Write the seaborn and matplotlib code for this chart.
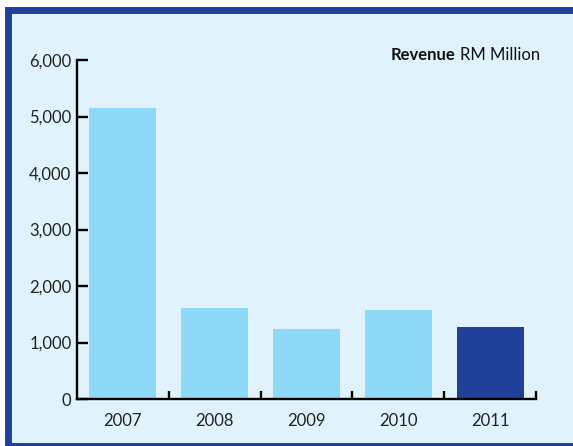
import matplotlib
matplotlib.use("Agg")
import matplotlib.pyplot as plt
import matplotlib.patches as patches
from matplotlib.ticker import FuncFormatter, FixedLocator
import seaborn as sns
import pandas as pd

years = ["2007", "2008", "2009", "2010", "2011"]
revenue = [5150, 1610, 1240, 1575, 1275]
bar_colors = ["#8ed9f8", "#8ed9f8", "#8ed9f8", "#8ed9f8", "#21409a"]

sns.set_style("white")
plt.rcParams["font.family"] = ["Lato", "DejaVu Sans"]

W, H = 573, 446
fig = plt.figure(figsize=(W / 100, H / 100), dpi=100, facecolor="white")

# framed panel with dark blue border
frame = patches.Rectangle((8 / W, 0.5 / H), 600 / W, (446 - 9.5 - 0.5) / H,
                          transform=fig.transFigure, facecolor="#e0f3fd",
                          edgecolor="#21409a", linewidth=5, zorder=-5)
fig.patches.append(frame)

ax = fig.add_axes([77 / W, 47 / H, (536 - 77) / W, (399 - 60) / H])
ax.set_facecolor("none")
ax.set_zorder(2)

df = pd.DataFrame({"year": years, "revenue": revenue})
sns.barplot(data=df, x="year", y="revenue", hue="year", palette=bar_colors,
            legend=False, width=0.73, saturation=1, linewidth=0,
            edgecolor="none", ax=ax)

ax.set_xlim(-0.5, 4.5)
ax.set_ylim(0, 6000)
ax.set_yticks(range(0, 6001, 1000))
ax.yaxis.set_major_formatter(FuncFormatter(lambda v, p: f"{int(v):,}"))
ax.set_xlabel("")
ax.set_ylabel("")

for s in ["top", "right"]:
    ax.spines[s].set_visible(False)
for s in ["left", "bottom"]:
    ax.spines[s].set_color("black")
    ax.spines[s].set_linewidth(1.7)

ax.tick_params(axis="y", left=True, direction="in", length=8, width=1.7,
               color="black", pad=4, labelsize=12, labelcolor="#222222")
ax.tick_params(axis="x", which="major", bottom=True, length=0, pad=10,
               labelsize=12, labelcolor="#222222")
ax.xaxis.set_minor_locator(FixedLocator([0.5, 1.5, 2.5, 3.5, 4.5]))
ax.tick_params(axis="x", which="minor", bottom=True, direction="in", length=6,
               width=1.7, color="black")

# title at top right: bold "Revenue" + regular "RM Million"
t2 = fig.text(540 / W, 1 - 55 / H, "RM Million", ha="right", va="center",
              fontsize=12, color="#111111", zorder=3)
fig.canvas.draw()
bb = t2.get_window_extent()
fig.text((bb.x0 - 4) / W, 1 - 55 / H, "Revenue", ha="right", va="center",
         fontsize=12, fontweight="bold", color="#111111", zorder=3)

fig.savefig("out.png", dpi=100, facecolor="white")
